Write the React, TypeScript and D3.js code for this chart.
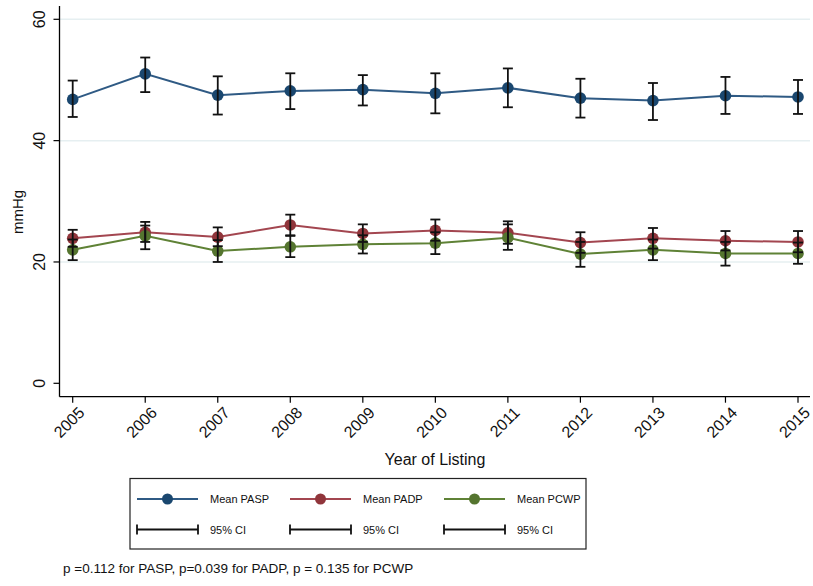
import React from "react";
import * as d3 from "d3";

const years = [2005, 2006, 2007, 2008, 2009, 2010, 2011, 2012, 2013, 2014, 2015];

const paspMean = [46.8, 51.0, 47.5, 48.2, 48.4, 47.8, 48.7, 47.0, 46.6, 47.4, 47.2];
const paspLo = [43.9, 48.0, 44.3, 45.2, 45.8, 44.5, 45.5, 43.8, 43.4, 44.4, 44.4];
const paspHi = [49.9, 53.7, 50.6, 51.1, 50.8, 51.1, 51.9, 50.2, 49.5, 50.5, 50.0];

const padpMean = [23.9, 24.9, 24.1, 26.1, 24.7, 25.2, 24.8, 23.2, 23.9, 23.5, 23.3];
const padpLo = [22.5, 23.3, 22.6, 24.4, 23.3, 23.5, 23.0, 21.5, 22.2, 21.9, 21.6];
const padpHi = [25.3, 26.6, 25.7, 27.8, 26.2, 27.0, 26.7, 24.9, 25.6, 25.1, 25.1];

const pcwpMean = [22.0, 24.3, 21.8, 22.5, 22.9, 23.1, 24.0, 21.3, 22.0, 21.4, 21.4];
const pcwpLo = [20.3, 22.1, 20.0, 20.8, 21.4, 21.3, 22.0, 19.2, 20.3, 19.4, 19.7];
const pcwpHi = [23.7, 26.0, 23.6, 24.3, 24.4, 24.9, 26.2, 23.3, 23.7, 23.3, 23.2];

const yTicks = [0, 20, 40, 60];
const seriesNames = ["Mean PASP", "Mean PADP", "Mean PCWP"];
const ciLabel = "95% CI";
const xTitle = "Year of Listing";
const yTitle = "mmHg";
const note = "p =0.112 for PASP, p=0.039 for PADP, p = 0.135 for PCWP";

const colors = ["#1a476f", "#90353b", "#55752f"];
const lineColors = ["#2f5a84", "#a34650", "#5f8236"];

export default function App() {
  const W = 813;
  const H = 586;
  const plotLeft = 59.5;
  const plotRight = 810;
  const plotTop = 6;
  const plotBottom = 396.7;

  const x = d3.scaleLinear().domain([2005, 2015]).range([72.7, 798]);
  const y = d3.scaleLinear().domain([0, 60]).range([383.3, 19.3]);

  const series = [
    { mean: paspMean, lo: paspLo, hi: paspHi },
    { mean: padpMean, lo: padpLo, hi: padpHi },
    { mean: pcwpMean, lo: pcwpLo, hi: pcwpHi },
  ];

  const line = d3
    .line<number>()
    .x((_, i) => x(years[i]))
    .y((d) => y(d));

  const font = "'Liberation Sans', Arial, Helvetica, sans-serif";
  const capW = 5;

  const legendX = [137, 290, 444];
  const legendTextX = [210, 363, 517];

  return (
    <svg
      width={W}
      height={H}
      style={{ position: "absolute", left: 0, top: 0, background: "#fff" }}
      fontFamily={font}
    >
      <rect x={0} y={0} width={W} height={H} fill="#fff" />
      {yTicks
        .filter((t) => t > 0)
        .map((t) => (
          <line
            key={"g" + t}
            x1={plotLeft}
            x2={plotRight}
            y1={y(t)}
            y2={y(t)}
            stroke="#e6eff1"
            strokeWidth={1.5}
          />
        ))}
      <line x1={plotLeft} x2={plotLeft} y1={plotTop} y2={plotBottom} stroke="#000" strokeWidth={1.3} />
      <line x1={plotLeft} x2={plotRight} y1={plotBottom} y2={plotBottom} stroke="#000" strokeWidth={1.3} />
      {yTicks.map((t) => (
        <g key={"yt" + t}>
          <line x1={plotLeft - 6} x2={plotLeft} y1={y(t)} y2={y(t)} stroke="#000" strokeWidth={1.2} />
          <text
            transform={`translate(${plotLeft - 15},${y(t)}) rotate(-90)`}
            textAnchor="middle"
            fontSize={16}
            fill="#111"
          >
            {t}
          </text>
        </g>
      ))}
      {years.map((yr) => (
        <g key={"xt" + yr}>
          <line x1={x(yr)} x2={x(yr)} y1={plotBottom} y2={plotBottom + 6} stroke="#000" strokeWidth={1.2} />
          <text
            transform={`translate(${x(yr) + 5},${plotBottom + 9}) rotate(-45)`}
            textAnchor="end"
            dominantBaseline="hanging"
            fontSize={16}
            fill="#111"
          >
            {yr}
          </text>
        </g>
      ))}
      <text x={435} y={465} textAnchor="middle" fontSize={16} fill="#111">
        {xTitle}
      </text>
      <text transform={`translate(23,212) rotate(-90)`} textAnchor="middle" fontSize={15} fill="#111">
        {yTitle}
      </text>

      {series.map((s, si) => (
        <path key={"l" + si} d={line(s.mean) || ""} fill="none" stroke={lineColors[si]} strokeWidth={2} />
      ))}
      {series.map((s, si) =>
        s.mean.map((v, i) => (
          <circle key={"m" + si + "-" + i} cx={x(years[i])} cy={y(v)} r={5.8} fill={colors[si]} />
        ))
      )}
      {series.map((s, si) =>
        s.mean.map((_, i) => {
          const cx = x(years[i]);
          return (
            <g key={"e" + si + "-" + i} stroke="#111" strokeWidth={1.8}>
              <line x1={cx} x2={cx} y1={y(s.lo[i])} y2={y(s.hi[i])} />
              <line x1={cx - capW} x2={cx + capW} y1={y(s.lo[i])} y2={y(s.lo[i])} />
              <line x1={cx - capW} x2={cx + capW} y1={y(s.hi[i])} y2={y(s.hi[i])} />
            </g>
          );
        })
      )}

      <rect x={130} y={478.5} width={456} height={70.5} fill="#fff" stroke="#222" strokeWidth={1.2} />
      {seriesNames.map((name, i) => (
        <g key={"lg" + i}>
          <line x1={legendX[i]} x2={legendX[i] + 61} y1={499} y2={499} stroke={lineColors[i]} strokeWidth={2} />
          <circle cx={legendX[i] + 30.5} cy={499} r={5.5} fill={colors[i]} />
          <text x={legendTextX[i]} y={503} fontSize={11} fill="#111">
            {name}
          </text>
          <g stroke="#111" strokeWidth={1.8}>
            <line x1={legendX[i]} x2={legendX[i] + 61} y1={529.5} y2={529.5} />
            <line x1={legendX[i]} x2={legendX[i]} y1={524.5} y2={534.5} />
            <line x1={legendX[i] + 61} x2={legendX[i] + 61} y1={524.5} y2={534.5} />
          </g>
          <text x={legendTextX[i]} y={533.5} fontSize={11} fill="#111">
            {ciLabel}
          </text>
        </g>
      ))}
      <text x={63} y={573} fontSize={13.5} fill="#111">
        {note}
      </text>
    </svg>
  );
}
